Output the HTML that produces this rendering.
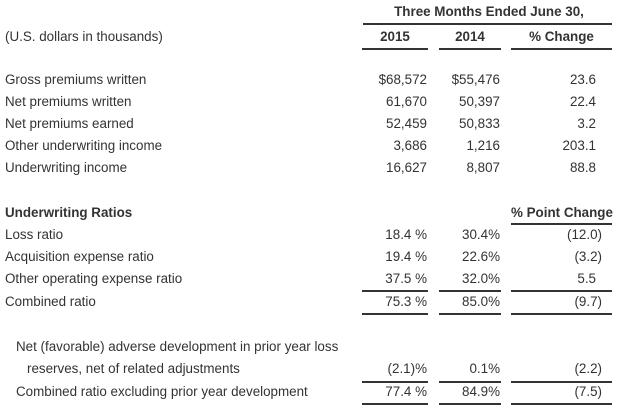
<!DOCTYPE html>
<html><head><meta charset="utf-8"><style>
body{margin:0;width:620px;height:416px;background:#fff;position:relative;overflow:hidden;font-family:"Liberation Sans",Arial,sans-serif;font-size:13.4px;color:#333}
.t{position:absolute;white-space:nowrap;line-height:16px}
.r{position:absolute;white-space:nowrap;line-height:16px;text-align:right}
.b{font-weight:bold}
.l{position:absolute;height:2px;background:#333}
</style></head><body>
<div class="t b" style="top:4px;text-align:center;left:366px;width:246px">Three Months Ended June 30,</div>
<div class="l" style="left:363px;top:23px;width:249px"></div>
<div class="t" style="left:5px;top:29px">(U.S. dollars in thousands)</div>
<div class="t b" style="left:362px;top:29px;width:66px;text-align:center">2015</div>
<div class="t b" style="left:439px;top:29px;width:62px;text-align:center">2014</div>
<div class="t b" style="left:511px;top:29px;width:101px;text-align:center">% Change</div>
<div class="l" style="left:362px;top:48px;width:66px"></div>
<div class="l" style="left:439px;top:48px;width:62px"></div>
<div class="l" style="left:511px;top:48px;width:101px"></div>

<div class="t" style="left:5px;top:72px">Gross premiums written</div>
<div class="t" style="left:5px;top:94px">Net premiums written</div>
<div class="t" style="left:5px;top:116px">Net premiums earned</div>
<div class="t" style="left:5px;top:138px">Other underwriting income</div>
<div class="t" style="left:5px;top:160px">Underwriting income</div>
<div class="r" style="right:193px;top:72px">$68,572</div>
<div class="r" style="right:193px;top:94px">61,670</div>
<div class="r" style="right:193px;top:116px">52,459</div>
<div class="r" style="right:193px;top:138px">3,686</div>
<div class="r" style="right:193px;top:160px">16,627</div>
<div class="r" style="right:120px;top:72px">$55,476</div>
<div class="r" style="right:120px;top:94px">50,397</div>
<div class="r" style="right:120px;top:116px">50,833</div>
<div class="r" style="right:120px;top:138px">1,216</div>
<div class="r" style="right:120px;top:160px">8,807</div>
<div class="r" style="right:24px;top:72px">23.6</div>
<div class="r" style="right:24px;top:94px">22.4</div>
<div class="r" style="right:24px;top:116px">3.2</div>
<div class="r" style="right:24px;top:138px">203.1</div>
<div class="r" style="right:24px;top:160px">88.8</div>

<div class="t b" style="left:5px;top:205px">Underwriting Ratios</div>
<div class="t b" style="left:511px;top:205px;width:101px;text-align:center">% Point Change</div>
<div class="l" style="left:511px;top:223px;width:101px"></div>
<div class="t" style="left:5px;top:227px">Loss ratio</div>
<div class="t" style="left:5px;top:249px">Acquisition expense ratio</div>
<div class="t" style="left:5px;top:271px">Other operating expense ratio</div>
<div class="t" style="left:5px;top:294px">Combined ratio</div>
<div class="r" style="right:193px;top:227px">18.4 %</div>
<div class="r" style="right:193px;top:249px">19.4 %</div>
<div class="r" style="right:193px;top:271px">37.5 %</div>
<div class="r" style="right:193px;top:294px">75.3 %</div>
<div class="r" style="right:120px;top:227px">30.4%</div>
<div class="r" style="right:120px;top:249px">22.6%</div>
<div class="r" style="right:120px;top:271px">32.0%</div>
<div class="r" style="right:120px;top:294px">85.0%</div>
<div class="r" style="right:18px;top:227px">(12.0)</div>
<div class="r" style="right:18px;top:249px">(3.2)</div>
<div class="r" style="right:24px;top:271px">5.5</div>
<div class="r" style="right:18px;top:294px">(9.7)</div>
<div class="l" style="left:362px;top:290px;width:66px"></div>
<div class="l" style="left:439px;top:290px;width:62px"></div>
<div class="l" style="left:511px;top:290px;width:101px"></div>
<div class="l" style="left:362px;top:313px;width:66px"></div>
<div class="l" style="left:439px;top:313px;width:62px"></div>
<div class="l" style="left:511px;top:313px;width:101px"></div>

<div class="t" style="left:16px;top:339px">Net (favorable) adverse development in prior year loss</div>
<div class="t" style="left:27px;top:361px">reserves, net of related adjustments</div>
<div class="t" style="left:16px;top:384px">Combined ratio excluding prior year development</div>
<div class="r" style="right:193px;top:361px">(2.1)%</div>
<div class="r" style="right:120px;top:361px">0.1%</div>
<div class="r" style="right:18px;top:361px">(2.2)</div>
<div class="r" style="right:193px;top:384px">77.4 %</div>
<div class="r" style="right:120px;top:384px">84.9%</div>
<div class="r" style="right:18px;top:384px">(7.5)</div>
<div class="l" style="left:362px;top:381px;width:66px"></div>
<div class="l" style="left:439px;top:381px;width:62px"></div>
<div class="l" style="left:511px;top:381px;width:101px"></div>
<div class="l" style="left:362px;top:403px;width:66px"></div>
<div class="l" style="left:439px;top:403px;width:62px"></div>
<div class="l" style="left:511px;top:403px;width:101px"></div>
</body></html>
